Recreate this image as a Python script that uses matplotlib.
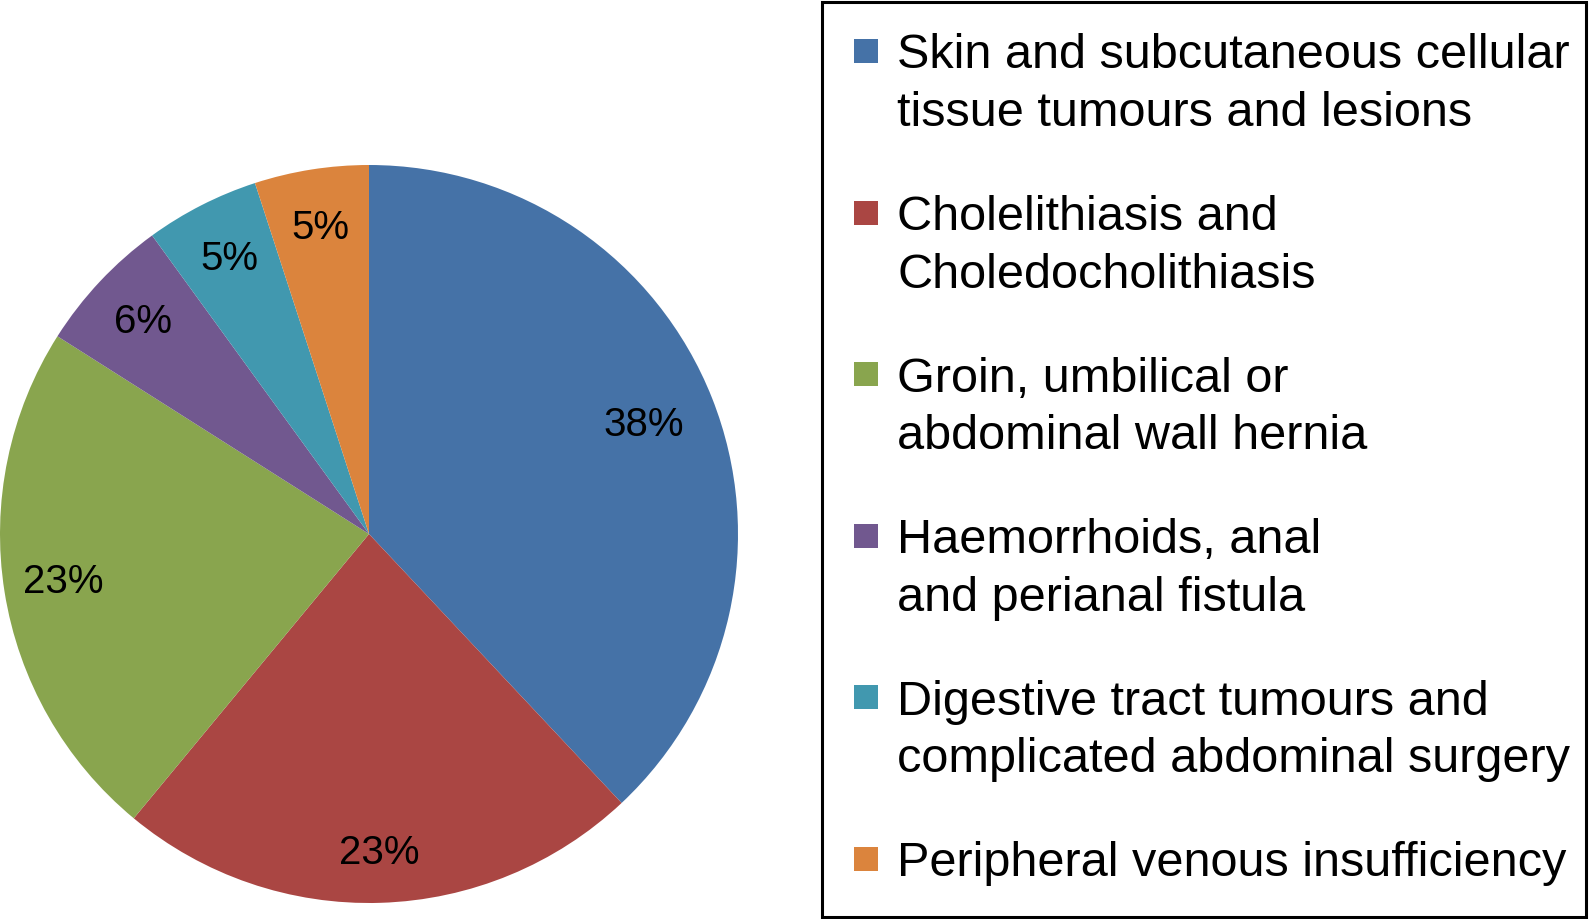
import numpy as np
import matplotlib.pyplot as plt
from matplotlib.patches import Rectangle

# data
categories = [
    "Skin and subcutaneous cellular\ntissue tumours and lesions",
    "Cholelithiasis and\nCholedocholithiasis",
    "Groin, umbilical or\nabdominal wall hernia",
    "Haemorrhoids, anal\nand perianal fistula",
    "Digestive tract tumours and\ncomplicated abdominal surgery",
    "Peripheral venous insufficiency",
]
shares = [38, 23, 23, 6, 5, 5]
colors = ["#4572A7", "#AA4643", "#89A54E", "#71588F", "#4198AF", "#DB843D"]
# how far from the centre each percentage label sits (fraction of radius)
label_radius = [0.80, 0.865, 0.84, 0.84, 0.835, 0.84]

plt.rcParams['font.family'] = ['Liberation Sans', 'DejaVu Sans']

W, H = 1589, 919
fig = plt.figure(figsize=(W / 100, H / 100), dpi=100)

# pie: centre (369, 534) px, radius 369 px
cx, cy, r = 369, 534, 369
ax = fig.add_axes([(cx - r) / W, (H - cy - r) / H, 2 * r / W, 2 * r / H])
wedges, _, pcts = ax.pie(shares, colors=colors, startangle=90, counterclock=False,
                         autopct='%1.0f%%', pctdistance=1.0, radius=1,
                         textprops={'fontsize': 29, 'color': 'black'})
for t, d in zip(pcts, label_radius):
    x, y = t.get_position()
    t.set_position((x * d, y * d))
ax.set_xlim(-1, 1)
ax.set_ylim(-1, 1)
ax.set_aspect('equal')
ax.axis('off')

# legend drawn in pixel coordinates
lg = fig.add_axes([0, 0, 1, 1])
lg.set_xlim(0, W)
lg.set_ylim(H, 0)
lg.axis('off')
lg.add_patch(Rectangle((822, 1.5), 764, 915, fill=False, edgecolor='black', linewidth=2.2))

first_center = 51
entry_gap = 161.6
line_gap = 57.5
for i, (label, col) in enumerate(zip(categories, colors)):
    yc = first_center + i * entry_gap
    lg.add_patch(Rectangle((854, yc - 12), 24, 24, facecolor=col, edgecolor='none'))
    for j, line in enumerate(label.split('\n')):
        lg.text(897, yc + j * line_gap, line, fontsize=35, va='center_baseline', ha='left')

fig.savefig('out.png', dpi=100)
